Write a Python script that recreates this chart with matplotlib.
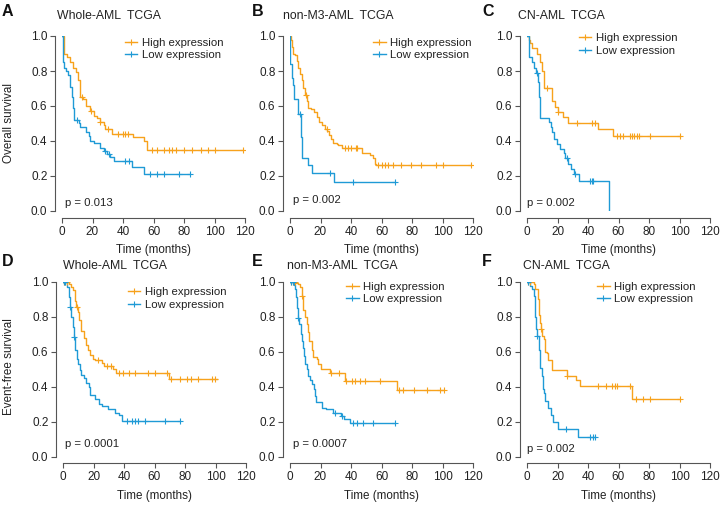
import numpy as np
import matplotlib
matplotlib.use("Agg")
import matplotlib.pyplot as plt
from matplotlib.lines import Line2D

plt.rcParams['font.family'] = ['Liberation Sans', 'DejaVu Sans']

ORANGE = '#F7A21C'
BLUE = '#1F9AD6'

# ---- data (time in months, survival after each step) ----
a_high_t = [0, 1, 3, 5, 7.5, 9.5, 10.5, 11.5, 14, 16, 18.5, 21, 23, 25, 27.5, 28.5, 33, 46.5, 54, 55.5, 119]
a_high_s = [1.0, 0.90, 0.88, 0.85, 0.82, 0.795, 0.75, 0.65, 0.64, 0.60, 0.57, 0.545, 0.53, 0.51, 0.49, 0.47, 0.44, 0.42, 0.40, 0.35, 0.35]
a_high_c = [13, 19, 25, 30, 37, 40, 41, 43.6, 59, 62, 67, 70, 72, 75, 80, 85, 91, 96, 100, 119]
a_low_t = [0, 0.7, 1.5, 2.5, 4, 5.5, 6.5, 7.3, 8, 11, 12, 16, 17.5, 18.6, 21, 25, 27.4, 29.6, 31.7, 34, 46, 53.6, 84]
a_low_s = [1.0, 0.85, 0.82, 0.80, 0.775, 0.71, 0.65, 0.59, 0.52, 0.50, 0.48, 0.45, 0.43, 0.40, 0.39, 0.36, 0.345, 0.325, 0.31, 0.285, 0.25, 0.21, 0.21]
a_low_c = [10, 28.5, 31, 41.6, 44, 58, 62, 67, 77, 84]

b_high_t = [0, 0.5, 1, 2.2, 3.3, 4.4, 5.5, 6.5, 7.6, 8.7, 9.8, 11, 12, 14, 15.7, 17.5, 19, 21, 23, 24.4,
            25.7, 26.6, 28.4, 30.5, 31.6, 33.8, 47, 52.4, 54.5, 55.6, 56.7, 118.5]
b_high_s = [1.0, 0.98, 0.94, 0.90, 0.89, 0.86, 0.82, 0.785, 0.75, 0.70, 0.66, 0.63, 0.59, 0.585, 0.565, 0.535,
            0.51, 0.49, 0.47, 0.455, 0.435, 0.41, 0.39, 0.385, 0.375, 0.36, 0.33, 0.32, 0.30, 0.27, 0.265, 0.265]
b_high_c = [10.5, 24, 36, 38, 40, 43, 44, 57.8, 60, 62.2, 64.4, 67.6, 73, 79.6, 86, 96, 100, 118.5]
b_low_t = [0, 0.3, 1, 1.7, 2.6, 5.5, 7.5, 8, 12, 14.2, 28.8, 68.7]
b_low_s = [1.0, 0.84, 0.76, 0.72, 0.64, 0.555, 0.42, 0.305, 0.26, 0.215, 0.165, 0.165]
b_low_c = [6.5, 26, 41.5, 68.7]

c_high_t = [0, 1, 1.7, 3.3, 6.5, 8.7, 9.8, 11, 16.4, 18.5, 20, 23.6, 26.6, 46.3, 56.3, 100.4]
c_high_s = [1.0, 0.98, 0.96, 0.93, 0.90, 0.85, 0.80, 0.70, 0.63, 0.595, 0.565, 0.535, 0.505, 0.47, 0.43, 0.43]
c_high_c = [13, 20.5, 32.7, 42.5, 44.7, 59, 61, 63, 67.6, 68.7, 70, 72, 73.7, 80.7, 100.4]
c_low_t = [0, 1, 3.3, 4.8, 6.1, 7, 7.6, 8.3, 14.2, 15.7, 16.4, 17.5, 19.6, 21.8, 24, 25, 26.6, 28.8, 31, 33.8, 54]
c_low_s = [1.0, 0.88, 0.85, 0.815, 0.79, 0.74, 0.65, 0.53, 0.51, 0.48, 0.45, 0.41, 0.385, 0.355, 0.33, 0.30,
           0.27, 0.24, 0.21, 0.17, 0.0]
c_low_c = [6.5, 26, 31.5, 41.5, 42.5, 43.6]

d_high_t = [0, 4, 5.4, 6.3, 7.6, 8.5, 9.8, 10.7, 12, 13.5, 15, 16.3, 17.9, 19.4, 21, 25.5, 27.2, 33, 34.6, 69.5, 100.7]
d_high_s = [1.0, 0.985, 0.97, 0.95, 0.89, 0.855, 0.825, 0.78, 0.72, 0.68, 0.64, 0.61, 0.58, 0.56, 0.55, 0.535,
            0.52, 0.50, 0.475, 0.445, 0.445]
d_high_c = [0.4, 1.5, 2.6, 9, 23, 29, 31.6, 36.4, 39.6, 43.4, 47.3, 56, 60.3, 68, 71, 76.7, 81, 84, 88.7, 97.4, 99.6]
d_low_t = [0, 2.6, 4, 4.8, 5.4, 6.3, 7, 8, 9.2, 9.8, 10.9, 12, 13.5, 15, 16.8, 17.9, 21, 23.3, 25.5, 29.8,
           34.2, 36.4, 39, 76.7]
d_low_s = [1.0, 0.97, 0.91, 0.855, 0.80, 0.74, 0.685, 0.61, 0.56, 0.53, 0.495, 0.467, 0.448, 0.42, 0.397, 0.35,
           0.33, 0.30, 0.287, 0.272, 0.25, 0.24, 0.205, 0.205]
d_low_c = [0.4, 1.5, 4.8, 7.5, 41.8, 45, 47.3, 49.5, 53.8, 67, 76.7]

e_high_t = [0, 4, 5.5, 6.6, 7.7, 8.8, 9.8, 11, 12, 12.7, 14.2, 14.9, 17.5, 18.6, 20, 26.3, 36, 70, 101]
e_high_s = [1.0, 0.994, 0.985, 0.966, 0.92, 0.84, 0.80, 0.756, 0.71, 0.66, 0.61, 0.57, 0.556, 0.53, 0.50,
            0.476, 0.432, 0.38, 0.38]
e_high_c = [0.5, 2, 3, 8, 26.7, 32.4, 37, 40.5, 42.7, 46, 49, 59, 71.8, 74.4, 81, 89.7, 98.5, 100.7]
e_low_t = [0, 2.5, 3.3, 4, 4.8, 5.5, 6.1, 7, 7.7, 8.3, 9.2, 10, 11, 12, 13, 14.2, 15.7, 16.4, 17, 20.8, 23.6,
           28, 33.3, 35.4, 39.4, 69]
e_low_s = [1.0, 0.98, 0.956, 0.91, 0.85, 0.794, 0.756, 0.70, 0.66, 0.62, 0.575, 0.53, 0.50, 0.46, 0.44, 0.413,
           0.385, 0.347, 0.31, 0.28, 0.27, 0.25, 0.232, 0.213, 0.19, 0.19]
e_low_c = [0.5, 2, 5.5, 29.5, 34, 41.6, 43.8, 48, 54.7, 69]

f_high_t = [0, 4.3, 5.4, 7, 7.6, 8.3, 9.1, 10, 11.3, 12, 13, 13.7, 16.3, 26, 32, 34.8, 69.1, 100]
f_high_s = [1.0, 0.985, 0.956, 0.90, 0.81, 0.765, 0.727, 0.69, 0.67, 0.60, 0.593, 0.55, 0.497, 0.46, 0.436,
            0.405, 0.33, 0.33]
f_high_c = [0.4, 2, 9.5, 26.5, 46.7, 52, 56, 57.6, 58.7, 67.8, 71.7, 76, 80.4, 100]
f_low_t = [0, 2.2, 3.3, 4.3, 5, 5.9, 6.5, 7.6, 8.3, 8.7, 9.8, 10.4, 11.3, 12, 13.7, 15.7, 17, 20, 33.7, 44.6]
f_low_s = [1.0, 0.975, 0.956, 0.918, 0.80, 0.727, 0.69, 0.61, 0.555, 0.507, 0.46, 0.386, 0.363, 0.315, 0.277,
           0.24, 0.197, 0.159, 0.109, 0.109]
f_low_c = [0.5, 6.5, 25.4, 41.3, 43.5, 44.6]

letters = ['A', 'B', 'C', 'D', 'E', 'F']
titles = ['Whole-AML  TCGA', 'non-M3-AML  TCGA', 'CN-AML  TCGA',
          'Whole-AML  TCGA', 'non-M3-AML  TCGA', 'CN-AML  TCGA']
pvals = ['p = 0.013', 'p = 0.002', 'p = 0.002', 'p = 0.0001', 'p = 0.0007', 'p = 0.002']
ylabels = ['Overall survival', 'Event-free survival']

curves = [
    (a_high_t, a_high_s, a_high_c, a_low_t, a_low_s, a_low_c),
    (b_high_t, b_high_s, b_high_c, b_low_t, b_low_s, b_low_c),
    (c_high_t, c_high_s, c_high_c, c_low_t, c_low_s, c_low_c),
    (d_high_t, d_high_s, d_high_c, d_low_t, d_low_s, d_low_c),
    (e_high_t, e_high_s, e_high_c, e_low_t, e_low_s, e_low_c),
    (f_high_t, f_high_s, f_high_c, f_low_t, f_low_s, f_low_c),
]

# ---- layout (pixels of a 722x505 canvas) ----
W, H = 722, 505
fig = plt.figure(figsize=(W / 100, H / 100), dpi=100)

ax_left = [62, 290, 527, 63, 290, 527]
ax_top = [36, 36, 36, 281.5, 281.5, 281.5]
ax_w, ax_h = 183, 175
title_x = [57, 283, 518, 63, 287, 523]
title_y = [16, 16, 16, 266, 266, 266]
letter_x = [2, 252, 482, 2, 252, 482]
letter_y = [12, 12, 12, 262, 262, 262]
leg_x = [0.344, 0.454, 0.284, 0.353, 0.306, 0.383]
leg_y = [0.99, 0.99, 1.015, 0.966, 1.0, 1.0]
p_x = [0.016, 0.016, 0.0, 0.01, 0.016, 0.0]
p_y = [0.046, 0.063, 0.046, 0.074, 0.074, 0.04]


def draw_km(ax, t, s, c, color):
    t = np.asarray(t)
    s = np.asarray(s)
    ax.step(t, s, where='post', color=color, lw=1.0, zorder=3)
    c = np.asarray(c)
    idx = np.searchsorted(t, c, side='right') - 1
    ax.plot(c, s[idx], ls='none', marker='+', ms=4.5, mew=0.8, color=color, zorder=4)


for i in range(6):
    l = ax_left[i]
    top = ax_top[i]
    ax = fig.add_axes([l / W, 1 - (top + ax_h) / H, ax_w / W, ax_h / H])
    ht, hs, hc, lt, ls_, lc = curves[i]
    draw_km(ax, ht, hs, hc, ORANGE)
    draw_km(ax, lt, ls_, lc, BLUE)

    ax.set_xlim(0, 120)
    ax.set_ylim(0, 1.0)
    ax.set_xticks(range(0, 121, 20))
    ax.set_yticks([0, 0.2, 0.4, 0.6, 0.8, 1.0])
    ax.set_yticklabels(['0.0', '0.2', '0.4', '0.6', '0.8', '1.0'])
    for side in ['top', 'right']:
        ax.spines[side].set_visible(False)
    ax.spines['left'].set_position(('outward', 5))
    ax.spines['bottom'].set_position(('outward', 5))
    ax.spines['left'].set_bounds(0, 1.0)
    ax.spines['bottom'].set_bounds(0, 120)
    for side in ['left', 'bottom']:
        ax.spines[side].set_color('#555555')
        ax.spines[side].set_linewidth(0.8)
    ax.tick_params(length=3.5, width=0.8, color='#555555', labelsize=8.5, pad=2, labelcolor='#222222')
    ax.patch.set_alpha(0)

    ax.text(p_x[i], p_y[i], pvals[i], transform=ax.transAxes, fontsize=8.2,
            ha='left', va='center', color='#222222')
    ax.text(0.5, -39 / ax_h, 'Time (months)', transform=ax.transAxes, fontsize=8.4,
            ha='center', va='center', color='#222222')

    handles = [Line2D([], [], color=ORANGE, lw=1.0, marker='+', ms=4.5, mew=0.8),
               Line2D([], [], color=BLUE, lw=1.0, marker='+', ms=4.5, mew=0.8)]
    ax.legend(handles, ['High expression', 'Low expression'], loc='upper left',
              bbox_to_anchor=(leg_x[i], leg_y[i]), frameon=False, fontsize=8.2,
              handlelength=1.1, handletextpad=0.4, borderpad=0, borderaxespad=0,
              labelspacing=0.2, labelcolor='#222222')

    fig.text(title_x[i] / W, 1 - title_y[i] / H, titles[i], fontsize=8.8,
             ha='left', va='center', color='#222222')
    fig.text(letter_x[i] / W, 1 - letter_y[i] / H, letters[i], fontsize=11.5,
             fontweight='bold', ha='left', va='center', color='#111111')

fig.text(9 / W, 1 - 123 / H, ylabels[0], rotation=90, fontsize=8.4,
         ha='center', va='center', color='#222222')
fig.text(9 / W, 1 - 367 / H, ylabels[1], rotation=90, fontsize=8.4,
         ha='center', va='center', color='#222222')

fig.savefig('out.png', dpi=100)
